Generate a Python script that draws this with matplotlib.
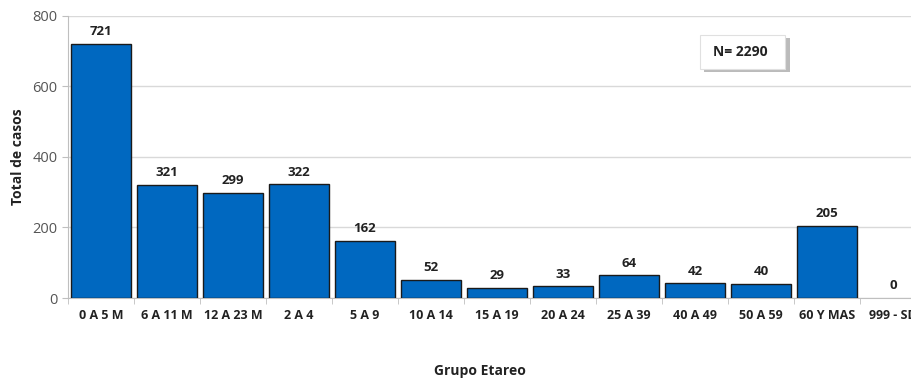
import numpy as np
import matplotlib.pyplot as plt
from matplotlib.patches import FancyBboxPatch

plt.rcParams['font.family'] = ['Open Sans', 'DejaVu Sans']

grupos = ['0 A 5 M', '6 A 11 M', '12 A 23 M', '2 A 4', '5 A 9', '10 A 14', '15 A 19',
          '20 A 24', '25 A 39', '40 A 49', '50 A 59', '60 Y MAS', '999 - SD']
casos = [721, 321, 299, 322, 162, 52, 29, 33, 64, 42, 40, 205, 0]
total = 2290

fig = plt.figure(figsize=(9.11, 3.78), dpi=100)
ax = fig.add_axes([0.0746, 0.2116, 0.942, 0.7464])

x = np.arange(len(grupos))
bordes = [1.0 if v > 0 else 0 for v in casos]
ax.bar(x, casos, width=0.9, color='#0068c0', edgecolor='#1a1a1a', linewidth=bordes, zorder=3)

for xi, v in zip(x, casos):
    ax.text(xi, v + 16, str(v), ha='center', va='bottom', fontsize=9.5, fontweight='bold', color='#222222')

ax.set_xlim(-0.5, len(grupos) - 0.5)
ax.set_ylim(0, 800)
ax.set_yticks([0, 200, 400, 600, 800])
ax.yaxis.grid(True, color='#d9d9d9', linewidth=1.0, zorder=0)

ax.set_xticks(x)
ax.set_xticklabels(grupos, fontsize=9, fontweight='bold', color='#222222')
ax.set_xticks(np.arange(len(grupos) + 1) - 0.5, minor=True)
ax.tick_params(axis='x', which='major', length=0, pad=8)
ax.tick_params(axis='x', which='minor', length=4, color='#bfbfbf')
ax.tick_params(axis='y', length=4, color='#bfbfbf', labelsize=10.5, labelcolor='#555555')

for s in ['top', 'right']:
    ax.spines[s].set_visible(False)
ax.spines['left'].set_color('#bfbfbf')
ax.spines['bottom'].set_color('#bfbfbf')

ax.set_ylabel('Total de casos', fontsize=10, fontweight='bold', color='#222222', labelpad=5)
fig.text(0.527, 0.0, 'Grupo Etareo', ha='center', va='bottom', fontsize=10, fontweight='bold', color='#222222')

# caja con el total de casos
shadow = FancyBboxPatch((0.773, 0.81), 0.094, 0.09, boxstyle='square,pad=0', transform=fig.transFigure,
                        facecolor='#bbbbbb', edgecolor='none', zorder=4)
box = FancyBboxPatch((0.768, 0.817), 0.094, 0.09, boxstyle='square,pad=0', transform=fig.transFigure,
                     facecolor='white', edgecolor='#e0e0e0', linewidth=0.8, zorder=5)
fig.patches.extend([shadow, box])
fig.text(0.813, 0.862, 'N= %d' % total, ha='center', va='center', fontsize=10, fontweight='bold',
         color='#222222', zorder=6)

fig.savefig('out.png', dpi=100)
